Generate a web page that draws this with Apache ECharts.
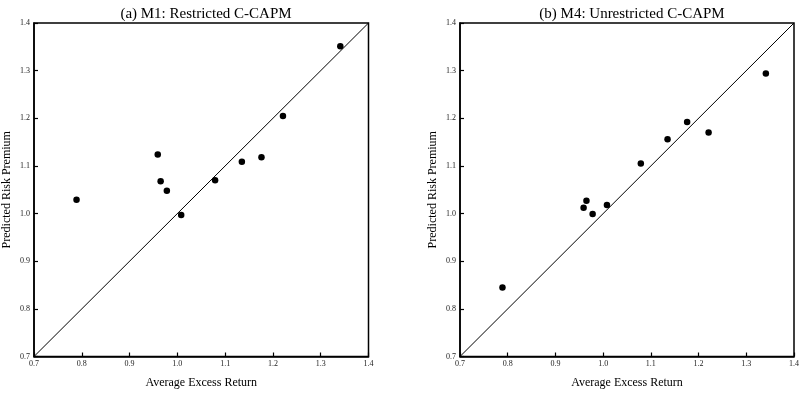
<!DOCTYPE html>
<html>
<head>
<meta charset="utf-8">
<script src="https://cdn.jsdelivr.net/npm/echarts@6/dist/echarts.min.js"></script>
<style>
  html, body { margin: 0; padding: 0; background: #fff; }
  #chart { width: 802px; height: 404px; }
</style>
</head>
<body>
<div id="chart"></div>
<script>
// average excess return per portfolio (same for both panels)
const avgReturn = [0.789, 0.959, 0.965, 0.978, 1.008, 1.079, 1.135, 1.176, 1.221, 1.341];
// predicted risk premium, M1 restricted
const predM1 = [1.029, 1.124, 1.068, 1.048, 0.997, 1.070, 1.109, 1.118, 1.205, 1.351];
// predicted risk premium, M4 unrestricted
const predM4 = [0.845, 1.012, 1.027, 0.999, 1.018, 1.105, 1.156, 1.192, 1.170, 1.294];
const diagonal = [[0.7, 0.7], [1.4, 1.4]];
const titles = ['(a) M1: Restricted C-CAPM', '(b) M4: Unrestricted C-CAPM'];

const font = '"Liberation Serif", "DejaVu Serif", serif';
const chart = echarts.init(document.getElementById('chart'));

const axisBase = {
  min: 0.7,
  max: 1.4,
  interval: 0.1,
  splitLine: { show: false },
  axisLine: { show: true, lineStyle: { color: '#000', width: 1.5 } },
  axisTick: { show: true, inside: true, length: 4, lineStyle: { color: '#000', width: 1.2 } },
  axisLabel: { color: '#222', fontFamily: font, fontSize: 8, formatter: v => v.toFixed(1) },
  nameTextStyle: { color: '#000', fontFamily: font, fontSize: 12 }
};

const grids = [
  { left: 33.5, right: 433.5, top: 23, bottom: 47.5 },
  { left: 460, right: 8, top: 23, bottom: 47.5 }
];

const xAxes = [], yAxes = [], series = [];
[predM1, predM4].forEach((pred, i) => {
  xAxes.push(Object.assign({}, axisBase, {
    type: 'value', gridIndex: i,
    name: 'Average Excess Return', nameLocation: 'middle', nameGap: 20,
    axisLabel: Object.assign({}, axisBase.axisLabel, { margin: 3 })
  }));
  yAxes.push(Object.assign({}, axisBase, {
    type: 'value', gridIndex: i,
    name: 'Predicted Risk Premium', nameLocation: 'middle', nameGap: 21,
    axisLabel: Object.assign({}, axisBase.axisLabel, { margin: 4 })
  }));
  series.push({
    type: 'line', xAxisIndex: i, yAxisIndex: i,
    data: diagonal, symbol: 'none',
    lineStyle: { color: '#000', width: 1 }, silent: true
  });
  series.push({
    type: 'scatter', xAxisIndex: i, yAxisIndex: i,
    data: avgReturn.map((x, k) => [x, pred[k]]),
    symbolSize: 6.5, itemStyle: { color: '#000', opacity: 1 }
  });
});

chart.setOption({
  backgroundColor: '#fff',
  animation: false,
  title: titles.map((t, i) => ({
    text: t,
    left: i === 0 ? 201 : 627,
    textAlign: 'center',
    top: 2,
    textStyle: { fontFamily: font, fontSize: 15, fontWeight: 'normal', color: '#000' }
  })),
  grid: grids.map(g => Object.assign({ show: true, borderColor: '#000', borderWidth: 1.5, backgroundColor: 'transparent' }, g)),
  xAxis: xAxes,
  yAxis: yAxes,
  series: series
});
</script>
</body>
</html>
